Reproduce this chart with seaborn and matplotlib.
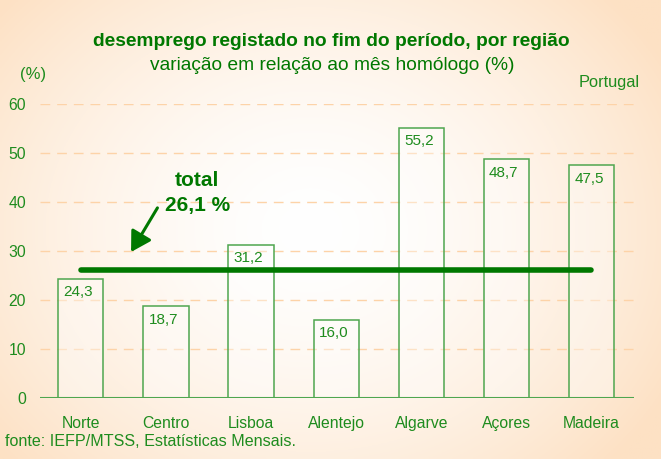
import numpy as np
import pandas as pd
import matplotlib
matplotlib.use("Agg")
import matplotlib.pyplot as plt
import seaborn as sns

regions = ["Norte", "Centro", "Lisboa", "Alentejo", "Algarve", "Açores", "Madeira"]
values = [24.3, 18.7, 31.2, 16.0, 55.2, 48.7, 47.5]
value_labels = ["24,3", "18,7", "31,2", "16,0", "55,2", "48,7", "47,5"]
total = 26.1
total_label = "26,1 %"
yticks = [0, 10, 20, 30, 40, 50, 60]

sns.set_theme(style="white")
plt.rcParams['font.family'] = ['Liberation Sans', 'DejaVu Sans']

GREEN = "#1E8C1E"
DARK = "#007800"
EDGE = "#4FA64F"
GRID = "#FDD3A8"

fig = plt.figure(figsize=(6.61, 4.59), dpi=100)

# background gradient
bg = fig.add_axes([0, 0, 1, 1], zorder=-10)
yy, xx = np.mgrid[0:1:200j, 0:1:300j]
r = np.sqrt(((xx - 0.47) / 0.62) ** 2 + ((yy - 0.5) / 0.75) ** 2)
r = np.clip(r, 0, 1) ** 1.6
c0 = np.array([1.0, 1.0, 1.0])
c1 = np.array([253, 225, 196]) / 255
img = c0[None, None, :] * (1 - r[..., None]) + c1[None, None, :] * r[..., None]
bg.imshow(img, aspect="auto", extent=[0, 1, 0, 1], origin="lower")
bg.set_axis_off()

ax = fig.add_axes([40 / 661, 1 - 398 / 459, (634 - 40) / 661, (398 - 104) / 459])
ax.patch.set_alpha(0)

df = pd.DataFrame({"region": regions, "value": values})
sns.barplot(data=df, x="region", y="value", ax=ax, width=0.53,
            facecolor=(1, 1, 1, 0.35), edgecolor=EDGE, linewidth=1.1, zorder=3)

for i, (v, lab) in enumerate(zip(values, value_labels)):
    ax.text(i - 0.03, v - 1.3, lab, ha="center", va="top", color=GREEN,
            fontsize=11, zorder=5)

ax.plot([0, len(regions) - 1], [total, total], color=DARK, lw=4,
        solid_capstyle="round", zorder=4)

ax.set_xlim(-0.48, 6.5)
ax.set_ylim(0, 60)
ax.set_yticks(yticks)
ax.set_yticklabels([str(t) for t in yticks])
for t in yticks[1:]:
    ax.axhline(t, color=GRID, lw=1, ls=(0, (7, 5)), zorder=1)
ax.axhline(0, color=EDGE, lw=1.5, zorder=4)

for s in ax.spines.values():
    s.set_visible(False)
ax.tick_params(axis="both", length=0, colors=GREEN, labelsize=11.3)
ax.tick_params(axis="x", pad=13)
ax.tick_params(axis="y", pad=10)
ax.set_xlabel("")
ax.set_ylabel("")

# annotation
ax.text(1.37, 44.3, "total", ha="center", va="center", color=DARK,
        fontsize=15, fontweight="bold")
ax.text(1.37, 39.2, total_label, ha="center", va="center", color=DARK,
        fontsize=15, fontweight="bold")
ax.annotate("", xy=(0.59, 29.8), xytext=(0.9, 38.8),
            arrowprops=dict(arrowstyle="-|>,head_length=0.6,head_width=0.35",
                            color=DARK, lw=2.2, mutation_scale=20,
                            shrinkA=0, shrinkB=0))

fig.text(331 / 661, 1 - 42 / 459, "desemprego registado no fim do período, por região",
         ha="center", va="center", color=DARK, fontsize=13.8, fontweight="bold")
fig.text(332 / 661, 1 - 65 / 459, "variação em relação ao mês homólogo (%)",
         ha="center", va="center", color=DARK, fontsize=13.8)
fig.text(33 / 661, 1 - 75 / 459, "(%)", ha="center", va="center", color=GREEN, fontsize=12)
fig.text(640 / 661, 1 - 82 / 459, "Portugal", ha="right", va="center", color=GREEN, fontsize=11.8)
fig.text(5 / 661, 1 - 441 / 459, "fonte: IEFP/MTSS, Estatísticas Mensais.",
         ha="left", va="center", color=GREEN, fontsize=11.6)

fig.savefig("out.png", dpi=100)
